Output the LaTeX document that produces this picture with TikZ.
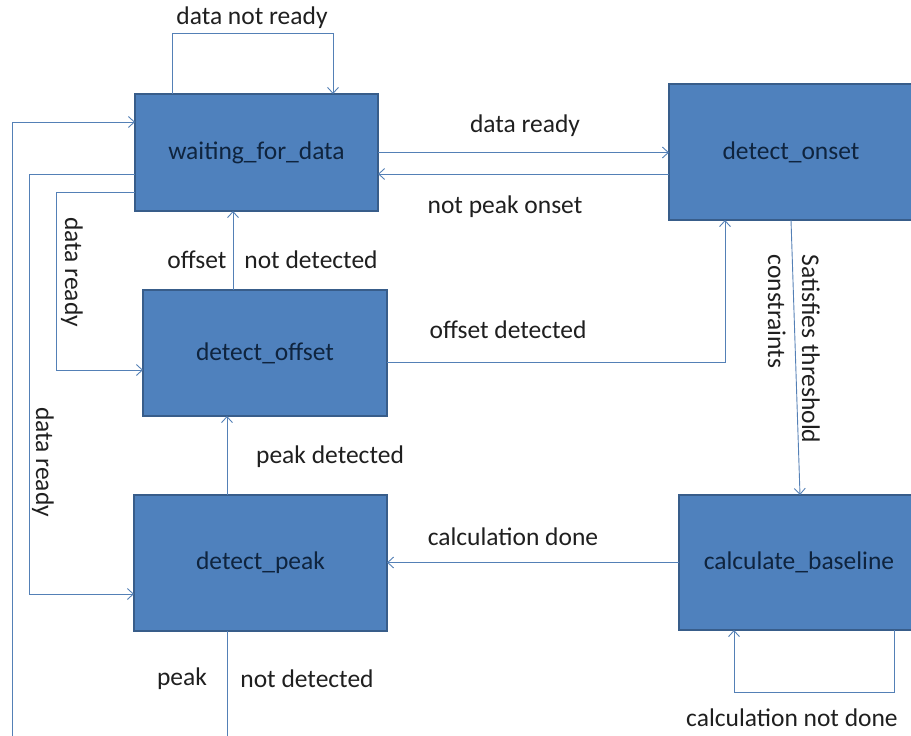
\documentclass[tikz,border=0pt]{standalone}
\usepackage{fontspec}
\setmainfont{Carlito}
\usepackage{xcolor}
\usetikzlibrary{arrows.meta,calc}

\definecolor{boxfill}{RGB}{79,129,189}
\definecolor{boxline}{RGB}{56,93,138}
\definecolor{boxtext}{RGB}{15,36,62}
\definecolor{wire}{RGB}{84,128,182}

\begin{document}
\begin{tikzpicture}[
    x=1pt, y=-1pt,
    >={Straight Barb[length=6pt,width=11pt]},
    state/.style={draw=boxline, line width=1.4pt, fill=boxfill, text=boxtext,
                  font=\fontsize{25.5}{30}\selectfont, outer sep=0pt,
                  minimum width=#1},
    arr/.style={->, line width=0.9pt, color=wire},
    lbl/.style={font=\fontsize{25.5}{34}\selectfont, text=black!88, inner sep=1pt},
  ]
  \useasboundingbox (0,0) rectangle (911,736);

  % states
  \node[state=243pt, minimum height=117pt] (wait)   at (256.5,152.5) {waiting\_for\_data};
  \node[state=244pt, minimum height=136pt] (onset)  at (791,152)     {detect\_onset};
  \node[state=244pt, minimum height=126pt] (offset) at (265,353)     {detect\_offset};
  \node[state=253pt, minimum height=136pt] (peak)   at (260.5,563)   {detect\_peak};
  \node[state=240pt, minimum height=135pt] (calc)   at (799,562.5)   {calculate\_baseline};
  \coordinate (loopbot) at (12,742);

  % transitions
  \draw[arr] ($(wait.north west)+(37,0)$) -- ++(0,-61) -| ($(wait.north west)+(198,0)$);
  \draw[arr] (wait.east) -- (wait.east -| onset.west);
  \draw[arr] ($(onset.west)+(0,22)$) -- ($(wait.east)+(0,21.5)$);
  \draw[arr] ($(offset.north west)+(90,0)$) -- ($(wait.south west)+(98,0)$);
  \draw[arr] ($(offset.east)+(0,9)$) -| ($(onset.south west)+(56,0)$);
  \draw[arr] ($(onset.south west)+(122,0)$) -- ($(calc.north west)+(121,0)$);
  \draw[arr] (calc.west) -- (calc.west -| peak.east);
  \draw[arr] ($(calc.south west)+(215,0)$) -- ++(0,62) -| ($(calc.south west)+(55,0)$);
  \draw[arr] ($(peak.north west)+(93,0)$) -- ($(offset.south west)+(84,0)$);
  \draw[arr] ($(peak.south west)+(93,0)$) |- (loopbot) |- ($(wait.west)+(0,-30.5)$);
  \draw[arr] ($(wait.west)+(0,21.5)$) -| ($(peak.west)+(-105,31)$) -- ($(peak.west)+(0,31)$);
  \draw[arr] ($(wait.west)+(0,40)$) -| ($(offset.west)+(-87,17)$) -- ($(offset.west)+(0,17)$);

  % labels
  \node[lbl] (notready)  at (252,18)  {data not ready};
  \node[lbl] (ready)     at (525,126) {data ready};
  \node[lbl] (notonset)  at (505,207) {not peak onset};
  \node[lbl] (offA)      at (197,260) {offset};
  \node[lbl] (offB)      at (311,260) {not detected};
  \node[lbl] (offdet)    at (508,330) {offset detected};
  \node[lbl, rotate=-90, align=left] (thresh) at (794,349) {Satisfies threshold\\constraints};
  \node[lbl] (calcdone)  at (513,537) {calculation done};
  \node[lbl] (calcnot)   at (792,718) {calculation not done};
  \node[lbl] (peakdet)   at (330,457) {peak detected};
  \node[lbl] (peakA)     at (182,679) {peak};
  \node[lbl] (peakB)     at (307,679) {not detected};
  \node[lbl, rotate=-90] (readyin)  at (72,272) {data ready};
  \node[lbl, rotate=-90] (readyout) at (43,462) {data ready};
\end{tikzpicture}
\end{document}
